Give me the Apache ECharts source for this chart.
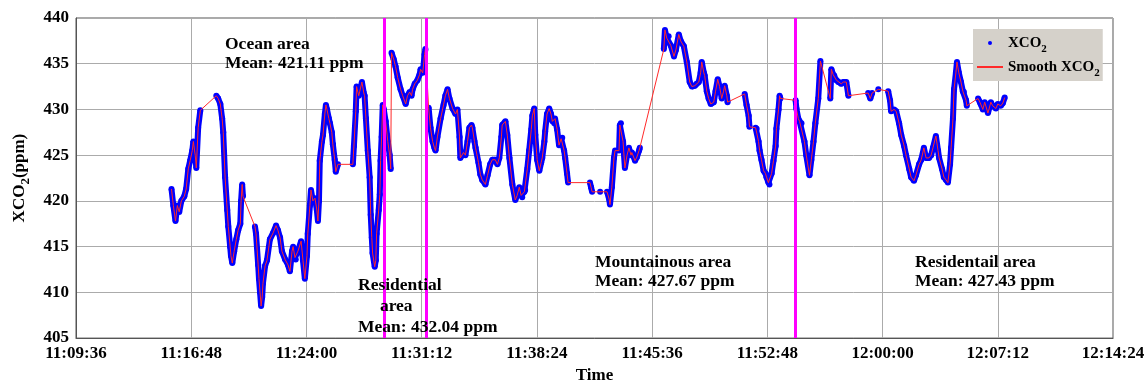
<!DOCTYPE html>
<html><head><meta charset="utf-8">
<script src="https://cdn.jsdelivr.net/npm/echarts@6/dist/echarts.min.js"></script>
<style>html,body{margin:0;padding:0;background:#fff}#c{width:1148px;height:389px}</style>
</head><body><div id="c"></div>
<script>
// Time in minutes after 11:00:00; '-' marks a gap in the measured XCO2 record.
const timeMin = [
  15.56,15.68,15.81,15.93,16.05,16.18,16.37,16.49,16.62,16.74,16.86,16.93,17.05,17.11,17.24,17.36,
  17.90,
  18.36,18.48,18.61,18.73,18.80,18.92,19.05,19.11,19.23,19.29,19.36,19.48,19.61,19.73,19.86,19.92,19.98,20.04,
  20.40,
  20.79,20.85,20.98,21.04,21.10,21.16,21.23,21.29,21.41,21.54,21.72,21.91,22.10,22.22,22.35,22.47,22.66,22.85,22.97,23.10,
  23.16,23.28,23.34,23.47,23.66,23.78,23.90,24.03,24.09,24.22,24.28,24.40,24.53,24.65,24.71,24.78,24.84,24.96,25.03,25.15,
  25.21,25.28,25.40,25.46,25.59,25.65,25.77,25.84,25.96,
  26.40,
  26.90,26.96,27.08,27.14,27.27,27.33,27.46,27.58,27.64,27.71,27.83,27.95,28.02,28.08,28.14,28.27,28.33,28.39,28.51,28.58,
  28.64,28.70,28.76,28.83,28.95,29.08,29.20,29.26,
  29.29,
  29.32,29.45,29.57,29.70,29.89,30.01,30.20,30.32,30.45,30.57,30.63,30.76,30.94,31.07,31.13,31.26,31.38,31.44,
  31.55,
  31.63,31.75,31.88,32.00,32.07,32.19,32.38,32.56,32.69,32.81,32.94,33.13,33.31,33.44,33.56,33.62,33.81,33.94,34.06,34.18,
  34.31,34.37,34.50,34.56,34.75,34.87,34.99,35.18,35.31,35.49,35.62,35.80,35.93,36.05,36.18,36.24,36.43,36.55,36.68,36.86,
  37.05,37.17,37.30,37.42,37.49,37.61,37.67,37.80,37.92,38.05,38.11,38.23,38.30,38.42,38.55,38.67,38.73,38.86,38.92,39.04,
  39.17,39.29,39.36,39.48,39.54,39.67,39.79,39.92,39.98,40.10,40.17,40.29,40.35,
  41.00,
  41.72,41.79,41.85,
  42.10,
  42.35,
  42.55,
  42.78,42.91,42.97,43.09,43.22,43.28,
  43.40,
  43.53,43.59,43.65,43.78,43.90,44.03,44.15,44.28,44.34,44.53,44.65,44.78,44.84,
  45.50,
  46.33,46.40,46.52,46.64,46.77,46.96,47.08,47.27,47.39,47.58,47.77,47.95,48.08,48.26,48.39,48.51,48.64,48.70,48.83,48.89,
  49.01,49.14,49.26,49.45,49.57,49.70,49.82,49.95,50.07,50.13,50.26,50.32,
  50.80,
  51.38,51.50,51.63,51.69,
  51.90,
  52.06,52.13,52.25,52.31,52.44,52.56,52.69,52.75,52.87,52.94,53.06,53.19,53.31,53.37,53.50,53.56,53.62,
  54.00,
  54.56,54.62,54.74,54.81,54.93,55.12,55.24,55.43,55.55,55.68,55.80,55.99,56.11,
  56.40,
  56.74,56.80,56.92,56.99,57.11,57.24,57.42,57.55,57.73,57.86,
  58.50,
  59.10,59.23,59.35,
  59.50,
  59.73,
  60.00,
  60.35,60.47,60.54,60.72,60.85,61.04,61.16,61.35,61.47,61.66,61.78,61.97,62.09,62.28,62.41,62.59,62.72,62.90,63.03,63.15,
  63.34,63.47,63.53,63.71,63.84,63.96,64.09,64.21,64.28,64.40,64.46,64.59,64.65,64.77,64.90,65.02,65.09,65.21,65.27,
  65.60,
  65.96,66.08,66.14,66.27,66.39,66.58,66.77,66.89,67.08,67.20,67.39,67.51,67.64
];
const xco2 = [
  421.3,419.5,417.8,419.5,418.8,420.0,420.5,421.3,423.5,424.4,425.5,426.5,425.0,423.6,428.0,429.9,
  '-',
  431.5,431.2,430.6,429.0,427.5,422.6,419.0,417.2,415.0,414.0,413.2,414.5,415.8,416.8,417.5,420.0,421.8,420.5,
  '-',
  417.2,416.4,413.0,411.5,410.0,408.5,409.5,411.0,412.9,413.5,415.8,416.5,417.3,416.8,416.0,414.5,413.6,413.0,412.3,414.5,
  415.0,413.8,413.6,414.5,415.6,413.5,411.5,414.0,416.4,419.5,421.2,420.0,420.3,419.0,417.8,420.0,424.4,426.5,427.2,429.5,
  430.5,430.0,429.0,428.5,427.5,426.2,424.5,423.2,424.0,
  '-',
  424.0,426.0,429.8,432.5,431.5,432.0,433.0,431.8,431.5,429.0,425.5,422.6,418.5,416.0,414.3,412.8,413.5,416.4,419.0,420.7,
  424.4,427.0,430.5,430.0,428.7,426.5,425.0,423.5,
  '-',
  436.2,435.5,434.7,433.5,432.2,431.5,430.6,431.5,431.9,431.5,432.2,432.8,433.2,433.8,434.4,434.0,436.0,436.6,
  '-',
  430.2,428.0,426.5,425.8,425.5,427.0,429.0,430.5,431.5,432.2,431.2,430.1,429.5,430.0,427.0,424.7,425.3,425.0,426.5,428.0,
  428.3,428.0,426.5,425.8,424.2,422.9,422.3,421.8,422.8,424.0,424.5,424.5,424.0,424.7,427.0,428.3,428.7,427.2,424.7,421.8,
  420.1,420.6,421.5,420.6,420.4,421.0,421.2,423.5,425.5,427.8,429.3,430.1,427.2,424.5,423.3,424.2,424.7,426.5,427.6,429.5,
  430.1,429.5,428.7,428.5,429.0,427.8,426.1,426.8,426.9,425.5,424.7,423.0,422.0,
  '-',
  422.0,421.5,421.0,
  '-',
  421.0,
  '-',
  421.0,420.2,419.6,421.5,424.7,425.5,
  '-',
  425.5,428.3,428.5,426.5,423.6,425.0,425.8,425.0,425.3,424.4,424.8,425.5,425.8,
  '-',
  436.6,438.7,437.8,438.0,437.0,435.8,436.5,438.2,437.5,436.9,435.2,433.0,432.5,432.6,432.8,433.0,434.0,435.2,434.0,433.7,
  432.0,431.2,430.6,430.8,432.0,433.3,432.5,431.2,432.0,432.6,431.5,430.8,
  '-',
  431.7,430.5,429.3,428.1,
  '-',
  428.0,427.9,426.5,425.5,424.5,423.3,423.0,422.6,422.0,421.8,423.0,424.4,426.0,427.9,430.0,431.5,431.2,
  '-',
  431.0,430.1,429.0,428.7,428.5,426.5,425.0,422.8,424.5,426.5,428.5,431.2,435.3,
  '-',
  431.2,434.4,433.8,433.7,433.2,433.0,432.8,433.0,433.0,431.5,
  '-',
  431.8,431.2,431.8,
  '-',
  432.2,
  '-',
  432.0,431.0,429.8,430.0,429.8,428.5,427.2,426.0,425.0,423.5,422.6,422.2,422.8,424.0,424.5,425.8,424.7,424.7,425.0,425.8,
  427.1,425.5,424.7,423.5,422.6,422.3,422.0,424.0,425.8,429.0,432.2,434.0,435.2,434.0,433.0,432.0,431.9,431.0,430.4,
  '-',
  431.2,430.8,430.6,430.0,430.8,429.6,430.8,430.4,430.1,430.6,430.4,430.7,431.3
];
// Area boundaries (minutes after 11:00:00)
const boundaryMin = [28.86, 31.51, 54.56];
const areaNotes = [
  'Ocean area\nMean: 421.11 ppm',
  'Residential\n     area\nMean: 432.04 ppm',
  'Mountainous area\nMean: 427.67 ppm',
  'Residentail area\nMean: 427.43 ppm'
];
const yMin = 405, yMax = 440, yStep = 5;
const xStartLabel = '11:09:36', xEndLabel = '12:14:24', xStepSec = 432;

const FONT = '"Liberation Serif", "Times New Roman", serif';
const hms = s => s.split(':').reduce((a, v) => a * 60 + Number(v), 0);
const toSec = m => Math.round(m * 60) + 11 * 3600;
const fmt = v => {
  v = Math.round(v);
  const h = Math.floor(v / 3600), m = Math.floor(v % 3600 / 60), s = v % 60;
  const p = n => String(n).padStart(2, '0');
  return p(h) + ':' + p(m) + ':' + p(s);
};
const pts = timeMin.map((t, i) => [toSec(t), xco2[i]]);

const chart = echarts.init(document.getElementById('c'), null, {renderer: 'canvas'});
const axisSub = {s: {fontFamily: FONT, fontWeight: 'bold', fontSize: 13, lineHeight: 24, verticalAlign: 'bottom', color: '#000'}};
const legendSub = {s: {fontFamily: FONT, fontWeight: 'bold', fontSize: 11, lineHeight: 24, verticalAlign: 'bottom', color: '#000'}};
const noteFont = 'bold 17.5px ' + FONT;
chart.setOption({
  animation: false,
  backgroundColor: '#fff',
  grid: {left: 72, right: 35, top: 18, bottom: 46, show: true, borderColor: '#555', borderWidth: 1, backgroundColor: 'transparent'},
  xAxis: {
    type: 'value', min: hms(xStartLabel), max: hms(xEndLabel), interval: xStepSec,
    name: 'Time', nameLocation: 'middle', nameGap: 28,
    nameTextStyle: {fontFamily: FONT, fontWeight: 'bold', fontSize: 17, color: '#000'},
    axisLine: {show: true, lineStyle: {color: '#555', width: 1}},
    axisTick: {show: false},
    axisLabel: {fontFamily: FONT, fontWeight: 'bold', fontSize: 17, color: '#000', margin: 7, formatter: fmt, showMinLabel: true, showMaxLabel: true},
    splitLine: {show: true, lineStyle: {color: '#ababab', width: 1}}
  },
  yAxis: {
    type: 'value', min: yMin, max: yMax, interval: yStep,
    name: 'XCO{s|2}(ppm)', nameLocation: 'middle', nameGap: 44,
    nameTextStyle: {fontFamily: FONT, fontWeight: 'bold', fontSize: 17, color: '#000', lineHeight: 24, rich: axisSub},
    axisLine: {show: true, lineStyle: {color: '#555', width: 1}},
    axisTick: {show: false},
    axisLabel: {fontFamily: FONT, fontWeight: 'bold', fontSize: 17, color: '#000', margin: 7},
    splitLine: {show: true, lineStyle: {color: '#ababab', width: 1}}
  },
  legend: {
    orient: 'vertical', left: 973, top: 29, padding: [2, 3, 2, 3], itemGap: 0,
    itemWidth: 26, itemHeight: 4, backgroundColor: '#d5d1ca', borderWidth: 0,
    data: [
      {name: 'XCO2', icon: 'circle'},
      {name: 'Smooth XCO2', itemStyle: {opacity: 0}}
    ],
    formatter: n => n.replace('XCO2', 'XCO{s|2}'),
    textStyle: {fontFamily: FONT, fontWeight: 'bold', fontSize: 15, color: '#000', lineHeight: 24, rich: legendSub}
  },
  series: [
    {
      name: 'XCO2', type: 'line', data: pts, connectNulls: false,
      symbol: 'circle', symbolSize: 6, showSymbol: true, showAllSymbol: true,
      itemStyle: {color: '#0000ff'}, lineStyle: {color: '#0000ff', width: 6},
      z: 2, silent: true
    },
    {
      name: 'Smooth XCO2', type: 'line', data: pts, connectNulls: true,
      symbol: 'none', itemStyle: {color: '#ff2a2a'}, lineStyle: {color: '#ff2a2a', width: 1},
      z: 3, silent: true,
      markLine: {
        silent: true, symbol: ['none', 'none'], label: {show: false},
        lineStyle: {color: '#ff00ff', width: 3, type: 'solid'},
        data: boundaryMin.map(m => ({xAxis: toSec(m)}))
      }
    }
  ],
  graphic: [
    {type: 'text', left: 225, top: 35, z: 10, style: {text: areaNotes[0], font: noteFont, fill: '#000', lineHeight: 19}},
    {type: 'text', left: 358, top: 275, z: 10, style: {text: areaNotes[1], font: noteFont, fill: '#000', lineHeight: 21}},
    {type: 'text', left: 595, top: 253, z: 10, style: {text: areaNotes[2], font: noteFont, fill: '#000', lineHeight: 19}},
    {type: 'text', left: 915, top: 253, z: 10, style: {text: areaNotes[3], font: noteFont, fill: '#000', lineHeight: 19}}
  ]
});
</script></body></html>
